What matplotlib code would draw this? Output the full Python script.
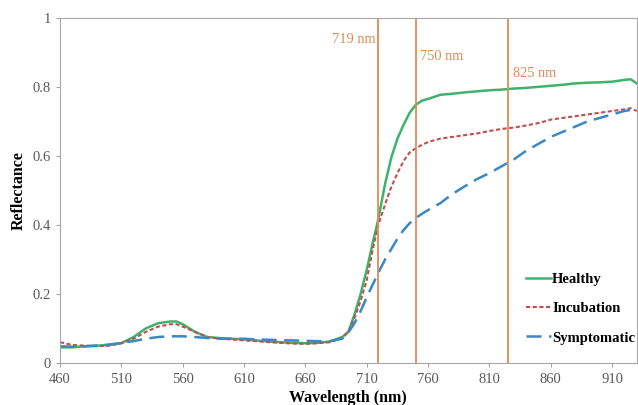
import matplotlib
import matplotlib.pyplot as plt
import numpy as np

matplotlib.use("Agg")

plt.rcParams.update({
    "font.family": ["Liberation Serif", "DejaVu Serif"],
    "font.size": 8,
})

# wavelength grid (nm) and reflectance
wl = [460, 470, 480, 490, 500, 510, 520, 530, 540, 550, 555, 560, 570, 580, 590,
      600, 610, 620, 630, 640, 650, 660, 670, 680, 690, 695, 700, 705, 710, 715,
      719, 725, 730, 735, 740, 745, 750, 755, 760, 770, 780, 790, 800, 810, 820,
      830, 840, 850, 860, 870, 880, 890, 900, 910, 920, 925, 930]

healthy = [0.045, 0.045, 0.048, 0.050, 0.052, 0.057, 0.075, 0.100, 0.115, 0.120, 0.120,
           0.112, 0.090, 0.075, 0.072, 0.070, 0.068, 0.065, 0.062, 0.060, 0.058, 0.057,
           0.058, 0.062, 0.075, 0.090, 0.140, 0.200, 0.270, 0.350, 0.410, 0.520, 0.595,
           0.650, 0.690, 0.725, 0.748, 0.760, 0.765, 0.777, 0.780, 0.784, 0.787, 0.790,
           0.792, 0.795, 0.797, 0.800, 0.803, 0.806, 0.810, 0.812, 0.813, 0.815, 0.820,
           0.822, 0.810]

incubation = [0.060, 0.052, 0.050, 0.048, 0.050, 0.057, 0.070, 0.090, 0.105, 0.112, 0.112,
              0.105, 0.090, 0.075, 0.070, 0.068, 0.065, 0.063, 0.060, 0.058, 0.056, 0.055,
              0.057, 0.060, 0.072, 0.090, 0.130, 0.180, 0.240, 0.330, 0.395, 0.460, 0.510,
              0.550, 0.585, 0.610, 0.622, 0.632, 0.640, 0.650, 0.655, 0.660, 0.665, 0.672,
              0.678, 0.682, 0.688, 0.695, 0.705, 0.710, 0.715, 0.720, 0.725, 0.730, 0.735,
              0.738, 0.730]

symptomatic = [0.048, 0.047, 0.048, 0.050, 0.053, 0.058, 0.063, 0.070, 0.075, 0.077, 0.077,
               0.077, 0.075, 0.072, 0.070, 0.070, 0.070, 0.068, 0.067, 0.066, 0.065, 0.064,
               0.063, 0.063, 0.070, 0.088, 0.115, 0.150, 0.190, 0.228, 0.258, 0.300, 0.330,
               0.360, 0.385, 0.405, 0.420, 0.432, 0.443, 0.463, 0.490, 0.512, 0.533, 0.550,
               0.570, 0.590, 0.615, 0.635, 0.655, 0.670, 0.685, 0.700, 0.710, 0.720, 0.730,
               0.733, 0.735]

marker_wl = [719, 750, 825]
marker_labels = ["719 nm", "750 nm", "825 nm"]

fig = plt.figure(figsize=(6.38, 4.05), dpi=100)
ax = fig.add_axes([0.094, 0.104, 0.904, 0.852])

ax.plot(wl, healthy, color="#3DB36B", lw=1.8, label="Healthy")
ax.plot(wl, incubation, color="#C0504D", lw=1.5, ls=(0, (2, 1.2)), label="Incubation")
ax.plot(wl, symptomatic, color="#3A88C6", lw=1.8, ls=(0, (6, 3)), label="Symptomatic")

orange = "#E08A55"
for w in marker_wl:
    ax.axvline(w, color=orange, lw=1.3)
ax.text(717, 0.936, marker_labels[0], color=orange, ha="right", va="center", fontsize=10.4)
ax.text(753, 0.887, marker_labels[1], color=orange, ha="left", va="center", fontsize=10.4)
ax.text(829, 0.840, marker_labels[2], color=orange, ha="left", va="center", fontsize=10.4)

ax.set_xlim(460, 930)
ax.set_ylim(0, 1)
ax.set_xticks(np.arange(460, 930, 50))
ax.set_yticks([0, 0.2, 0.4, 0.6, 0.8, 1])
ax.set_yticklabels(["0", "0.2", "0.4", "0.6", "0.8", "1"])
for sp in ax.spines.values():
    sp.set_color("#A6A6A6")
ax.tick_params(colors="#A6A6A6", labelcolor="#595959", labelsize=10.5, length=3)
ax.tick_params(axis="x", pad=4)

ax.set_xlabel("Wavelength (nm)", fontweight="bold", fontsize=11.5, labelpad=3)
ax.set_ylabel("Reflectance", fontweight="bold", fontsize=11.5, labelpad=4)

leg = ax.legend(loc="lower right", frameon=False, prop={"weight": "bold", "size": 10.5},
                handlelength=1.7, handletextpad=0.1, labelspacing=1.1,
                bbox_to_anchor=(1.02, 0.015))

fig.savefig("out.png", dpi=100)
